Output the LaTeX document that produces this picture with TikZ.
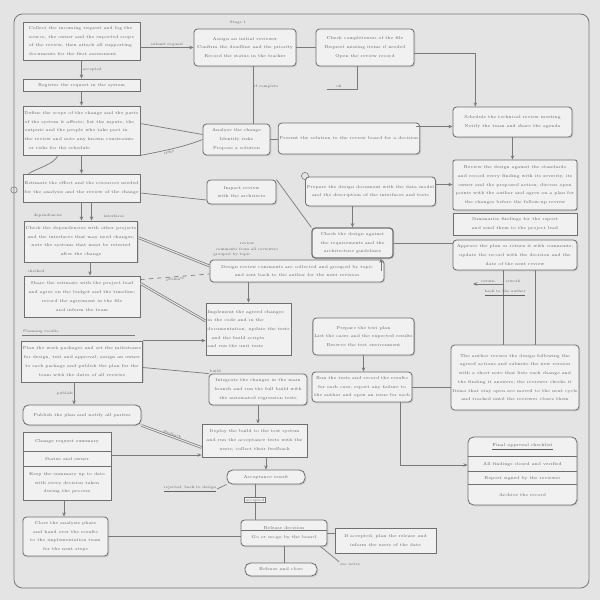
\documentclass[tikz,border=0pt]{standalone}
\usetikzlibrary{positioning}
\usetikzlibrary{calc,shadows,arrows.meta}

\definecolor{bg}{HTML}{E4E4E4}
\definecolor{boxfill}{HTML}{F1F1F1}
\definecolor{boxline}{HTML}{707070}
\definecolor{inkgray}{HTML}{626262}
\definecolor{wiregray}{HTML}{7A7A7A}

\tikzset{
	box/.style={draw=boxline, fill=boxfill, line width=0.6pt, inner sep=1pt, align=center, text=inkgray,
		font=\fontsize{3.0}{6.2}\selectfont, drop shadow={opacity=0.22, shadow xshift=0.9pt, shadow yshift=-0.9pt}},
	rbox/.style={box, rounded corners=2.5pt},
	pill/.style={box, rounded corners=4pt},
	wire/.style={draw=wiregray, line width=0.5pt},
	twin/.style={wire, double=bg, double distance=0.8pt},
	arr/.style={wire, -{Stealth[length=3pt,width=2.5pt]}},
	tag/.style={font=\fontsize{2.6}{3.2}\selectfont, text=inkgray, inner sep=0.6pt},
}

\begin{document}
\begin{tikzpicture}[x=0.025cm, y=-0.025cm]
			\fill[bg] (0, 0) rectangle (600, 600);
			\useasboundingbox (0, 0) rectangle (600, 600);
			\draw[wiregray, line width=0.6pt, rounded corners=6pt] (14, 14) rectangle (589, 588);
			\draw[wiregray] (14, 190) circle[radius=0.08cm];
			\draw[wiregray] (305, 176) circle[radius=0.09cm];

			% left column
			\node[box, align=left, minimum width=2.925cm, minimum height=0.95cm] (A) at (81.5, 41) {Collect the incoming request and log the\\ source, the owner and the expected scope\\ of the review, then attach all supporting\\ documents for the first assessment};
			\node[box, minimum width=2.925cm, minimum height=0.3cm] (L2) at (81.5, 85) {Register the request in the system};
			\node[box, align=left, minimum width=2.925cm, minimum height=1.225cm] (L3) at (81.5, 130.5) {Define the scope of the change and the parts\\ of the system it affects; list the inputs, the\\ outputs and the people who take part in\\ the review and note any known constraints\\ \quad or risks for the schedule};
			\node[box, minimum width=2.925cm, minimum height=0.7cm] (L4) at (81.5, 188) {Estimate the effort and the resources needed\\ for the analysis and the review of the change};
			\node[box, minimum width=2.8cm, minimum height=1.025cm] (L5) at (81, 241.5) {Check the dependencies with other projects\\ and the interfaces that may need changes;\\ note the systems that must be retested\\ after the change};
			\node[box, minimum width=2.9cm, minimum height=1.025cm] (L6) at (82, 296.5) {Share the estimate with the project lead\\ and agree on the budget and the timeline;\\ record the agreement in the file\\ and inform the team};
			\node[box, minimum width=3cm, minimum height=1.025cm] (L7) at (82, 361.5) {Plan the work packages and set the milestones\\ for design, test and approval; assign an owner\\ to each package and publish the plan for the\\ team with the dates of all reviews};
			\node[box, rounded corners=4pt, minimum width=2.95cm, minimum height=0.5cm] (L8) at (82, 415) {Publish the plan and notify all parties};
			\node[box, minimum width=2.2cm, minimum height=1.7cm] (L9) at (67, 466) {};
			\node[rbox, minimum width=2.125cm, minimum height=0.975cm] (L10) at (65.5, 536.5) {Close the analysis phase\\ and hand over the results\\ to the implementation team\\ for the next steps};

			\draw[boxline] ($(L9.north west)+(0, 20)$) -- ($(L9.north east)+(0, 20)$);
			\draw[boxline] ($(L9.north west)+(0, 35)$) -- ($(L9.north east)+(0, 35)$);
			\node[tag, font=\fontsize{3.0}{6}\selectfont] (L9a) at ($(L9.north)+(0, 10)$) {Change request summary};
			\node[tag, font=\fontsize{3.0}{6}\selectfont] (L9b) at ($(L9.north)+(0, 27.5)$) {Status and owner};
			\node[tag, font=\fontsize{3.0}{6.3}\selectfont, align=center] (L9c) at ($(L9.north)+(0, 51.5)$) {Keep the summary up to date\\ with every decision taken\\ during the process};

			\node[tag, anchor=south west] (l7head) at (22, 334) {Planning results};
			\draw[wiregray] (22, 335) -- (135, 335);

			% top row and right column
			\node[rbox, minimum width=2.55cm, minimum height=0.925cm] (B) at (245, 47.5) {Assign an initial reviewer\\ Confirm the deadline and the priority\\ Record the status in the tracker};
			\node[tag] (Blbl) at (238, 23) {Stage 1};
			\node[rbox, minimum width=2.45cm, minimum height=0.925cm] (C) at (365, 47.5) {Check completeness of the file\\ Request missing items if needed\\ Open the review record};
			\node[rbox, minimum width=2.975cm, minimum height=0.75cm] (D) at (512.5, 122) {Schedule the technical review meeting\\ Notify the team and share the agenda};
			\node[box, rounded corners=1.5pt, minimum width=3.1cm, minimum height=1.25cm] (E) at (515, 185) {Review the design against the standards\\ and record every finding with its severity, its\\ owner and the proposed action; discuss open\\ points with the author and agree on a plan for\\ the changes before the follow-up review};
			\node[box, minimum width=3.1cm, minimum height=0.55cm] (F) at (515, 224) {Summarise findings for the report\\ and send them to the project lead};
			\node[rbox, minimum width=3.1cm, minimum height=0.75cm] (G) at (515, 255) {Approve the plan or return it with comments;\\ update the record with the decision and the\\ date of the next review};
			\node[rbox, minimum width=3.1cm, minimum height=1.625cm] (H) at (515, 377.5) {The author revises the design following the\\ agreed actions and submits the new version\\ with a short note that lists each change and\\ the finding it answers; the reviewer checks it\\ Items that stay open are moved to the next cycle\\ and tracked until the reviewer closes them};
			\node[box, rounded corners=4pt, minimum width=2.725cm, minimum height=1.7cm] (I) at (522.5, 471) {};
			\draw[boxline] ($(I.north west)+(0, 20)$) -- ($(I.north east)+(0, 20)$);
			\draw[boxline] ($(I.north west)+(0, 35)$) -- ($(I.north east)+(0, 35)$);
			\draw[boxline] ($(I.north west)+(0, 48)$) -- ($(I.north east)+(0, 48)$);
			\node[tag, font=\fontsize{3.0}{6}\selectfont] (I1) at ($(I.north)+(0, 10)$) {\underline{Final approval checklist}};
			\node[tag, font=\fontsize{3.0}{6}\selectfont] (I2) at ($(I.north)+(0, 27.5)$) {All findings closed and verified};
			\node[tag, font=\fontsize{3.0}{6}\selectfont] (I3) at ($(I.north)+(0, 41.5)$) {Report signed by the reviewer};
			\node[tag, font=\fontsize{3.0}{6}\selectfont] (I4) at ($(I.north)+(0, 58)$) {Archive the record};

			% middle
			\node[rbox, minimum width=1.675cm, minimum height=0.775cm] (N2) at (236.5, 139.5) {Analyse the change\\ Identify risks\\ Propose a solution};
			\node[rbox, minimum width=3.15cm, minimum height=0.775cm] (N3) at (349, 138.5) {Present the solution to the review board for a decision};
			\node[rbox, minimum width=1.725cm, minimum height=0.6cm] (N1) at (241.5, 192) {Impact review\\ with the architects};
			\node[rbox, minimum width=3.025cm, minimum height=0.725cm] (P) at (370.5, 191.5) {Prepare the design document with the data model\\ and the description of the interfaces and tests};
			\node[rbox, line width=0.9pt, minimum width=2.025cm, minimum height=0.75cm] (Q) at (352.5, 243) {Check the design against\\ the requirements and the\\ architecture guidelines};
			\node[rbox, minimum width=4.35cm, minimum height=0.55cm] (R) at (297, 271) {Design review comments are collected and grouped by topic\\ and sent back to the author for the next revision};
			\node[tag] (Rlbl1) at (247, 243) {review};
			\node[tag] (Rlbl2) at (247, 249) {comments from all reviewers};
			\node[tag] (Rlbl3) at (232, 255) {grouped by topic};
			\node[box, align=left, minimum width=2.075cm, minimum height=1.3cm] (S) at (248.5, 329) {Implement the agreed changes\\ in the code and in the\\ documentation, update the tests\\ \quad and the build scripts\\ and run the unit tests};
			\node[rbox, minimum width=2.275cm, minimum height=0.925cm] (J) at (363.5, 336.5) {Prepare the test plan\\ List the cases and the expected results\\ Reserve the test environment};
			\node[rbox, minimum width=2.45cm, minimum height=0.775cm] (T) at (258, 389.5) {Integrate the changes in the main\\ branch and run the full build with\\ the automated regression tests};
			\node[rbox, minimum width=2.5cm, minimum height=0.75cm] (K) at (362, 387) {Run the tests and record the results\\ for each case; report any failure to\\ the author and open an issue for each};
			\node[box, minimum width=2.625cm, minimum height=0.825cm] (U) at (254.5, 440.5) {Deploy the build to the test system\\ and run the acceptance tests with the\\ users; collect their feedback};
			\node[pill, minimum width=1.95cm, minimum height=0.35cm] (V) at (266, 477) {Acceptance result};
			\node[tag] (Vrej) at (190, 489) {\underline{rejected, back to design}};
			\node[rbox, minimum width=2.15cm, minimum height=0.65cm] (M) at (284, 533) {Release decision\\ Go or no-go by the board};
			\draw[boxline] ($(M.north west)+(0, 11)$) -- ($(M.north east)+(0, 11)$);
			\node[box, minimum width=2.525cm, minimum height=0.625cm] (X) at (385.5, 540.5) {If accepted, plan the release and\\ inform the users of the date};
			\node[pill, minimum width=1.8cm, minimum height=0.325cm] (Y) at (281, 569.5) {Release and close};
			\node[tag] (Mnote) at (350, 564) {see notes};

			% connectors, left column
			\draw[arr] (A.south) -- (L2.north) node[tag, midway, right]{accepted};
			\draw[arr] (L2.south) -- (L3.north);
			\draw[arr] (L3.south) -- (L4.north);
			\draw[wire] ($(L3.south west)!0.3!(L3.south east)$) .. controls +(-4, 9) and +(10, -6) .. ($(L4.north west)+(6, 0)$);
			\coordinate (l4b) at ($(L4.south)+(10, 0)$);
			\draw[arr] (L4.south) -- (L4.south |- L5.north);
			\draw[arr] (l4b) -- (l4b |- L5.north);
			\node[tag] at (48, 216) {dependencies};
			\node[tag] at (114, 216) {interfaces};
			\coordinate (l5b) at ($(L5.south)+(9, 0)$);
			\draw[arr] (l5b) -- (l5b |- L6.north);
			\node[tag] at (36, 271) {checked};
			\coordinate (l7b) at ($(L7.south)+(-8, 0)$);
			\draw[arr] (l7b) -- (l7b |- L8.north) node[tag, midway, left]{publish};
			\coordinate (l9b) at ($(L9.south)+(-3, 0)$);
			\draw[arr] (l9b) -- (l9b |- L10.north);

			% connectors, top and right
			\draw[arr] (A.east |- B.west) -- (B.west) node[tag, midway, above]{submit request};
			\draw[wire] (B.east) -- (C.west);
			\draw[arr] ($(C.east)+(0, 6)$) -| ($(D.north west)!0.19!(D.north east)$);
			\coordinate (cnote) at (327, 89);
			\draw[wire] ($(C.south)+(-8, 0)$) |- (cnote) node[tag, pos=0.8, above]{ok};
			\coordinate (bn) at ($(B.south)+(8, 0)$);
			\draw[wire] (bn) -- (bn |- N2.north) node[tag, pos=0.35, right]{if complete};
			\draw[arr] (D.south) -- (D.south |- E.north);
			\coordinate (g1) at ($(G.south)+(-12, 0)$);
			\coordinate (g2) at ($(G.south)+(20, 0)$);
			\draw[wire] (g1) -- (g1 |- H.north);
			\draw[wire] (g2) -- (g2 |- H.north);
			\coordinate (gret) at (473, 284);
			\draw[arr] (g1 |- gret) -- (gret);
			\node[tag] at (488, 281) {return};
			\node[tag] at (513, 281) {rework};
			\node[tag] at (505, 293) {\underline{back to the author}};
			\draw[wire] (K.east) -- (K.east -| H.west);
			\coordinate (kd) at ($(K.south)+(38, 0)$);
			\draw[arr] (kd) |- ($(I.west)+(0, -6)$);
			\draw[arr] (J.south) -- (J.south |- K.north);

			% connectors, middle
			\draw[wire] ($(L3.east)+(0, -7)$) -- ($(N2.west)+(0, -5)$);
			\draw[wire] (L3.south east) .. controls +(20, -4) and +(-20, 8) .. (N2.west) node[tag, pos=0.45, below, sloped]{risks};
			\draw[wire] ($(L4.east)+(0, 5)$) -- ($(N1.west)+(0, 8)$);
			\draw[wire] (N1.north east) -- (Q.north west);
			\draw[wire] (N2.east) -- (N2.east -| N3.west);
			\coordinate (n3d) at ($(N3.east)+(-4, -12)$);
			\draw[arr] (n3d) -- (n3d -| D.west);
			\coordinate (pe) at ($(P.east)+(0, -7)$);
			\draw[arr] (pe) -- (pe -| E.west);
			\draw[arr] (Q.north |- P.south) -- (Q.north);
			\draw[wire] (Q.east) -- (Q.east -| G.west);
			\coordinate (rq) at ($(R.center)+(84, 0)$);
			\draw[arr] (rq) -- (rq |- Q.south);
			\draw[twin] ($(L5.east)+(0, -4)$) -- ($(R.west)+(0, -5)$);
			\draw[wire, dashed] ($(L6.east)+(0, -17)$) -- ($(R.west)+(0, 3)$) node[tag, midway, below, sloped]{estimate};
			\draw[twin] ($(L6.east)+(0, -13)$) -- ($(S.west)+(0, -8)$);
			\draw[arr] (S.north |- R.south) -- (S.north);
			\draw[arr] (L7.north east) -- (L7.north east -| S.west);
			\draw[wire] ($(L7.east)+(0, 6)$) -- (T.north west) node[tag, pos=1, above right]{build};
			\draw[arr] (T.south) -- (T.south |- U.north);
			\draw[twin] (L8.south east) -- ($(U.west)+(0, 7)$) node[tag, midway, above, sloped]{feedback};
			\coordinate (l9e) at ($(L9.east)+(0, -11)$);
			\draw[arr] (l9e) -- (l9e -| U.west);
			\draw[arr] (V.north |- U.south) -- (V.north);
			\draw[wire] (V.south west) -- (Vrej.east);
			\coordinate (vm) at ($(V.south)+(-11, 0)$);
			\draw[wire] (vm) -- (vm |- M.north) node[tag, draw=boxline, fill=boxfill, pos=0.45]{accepted};
			\draw[wire] (L10.east) -- (L10.east -| M.west);
			\draw[wire] (M.east) -- (M.east -| X.west);
			\draw[wire] ($(M.south east)+(-7, 0)$) -- (Mnote.north west);
			\draw[wire] (M.south) -- (M.south |- Y.north);
		\end{tikzpicture}
\end{document}
